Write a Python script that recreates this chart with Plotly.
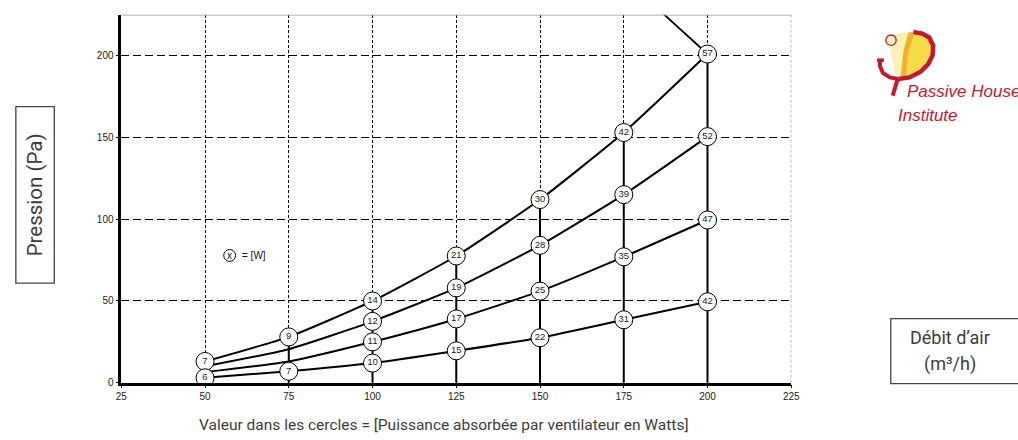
import plotly.graph_objects as go

W, H = 1018, 440

# ---- data ----
flow = [50, 75, 100, 125, 150, 175, 200]
p1 = [13, 28, 50, 77.5, 112, 153, 201]
w1 = [7, 9, 14, 21, 30, 42, 57]
p2 = [10, 20.5, 37.5, 58, 84, 115, 150.5]
w2 = [None, None, 12, 19, 28, 39, 52]
p3 = [6.5, 13, 25, 39, 56, 77, 99.5]
w3 = [None, None, 11, 17, 25, 35, 47]
p4 = [3, 7, 12, 19.5, 27.5, 38.5, 49.5]
w4 = [6, 7, 10, 15, 22, 31, 42]
limit_flow = [200, 185]
limit_p = [201, 229]

x_ticks = [25, 50, 75, 100, 125, 150, 175, 200, 225]
y_ticks = [0, 50, 100, 150, 200]

# ---- helpers for pixel placement of decorations ----
def px(x):
    return x / W

def py(y):
    return 1 - y / H

def path(pts, close=False):
    s = "M " + " L ".join(f"{px(x):.5f},{py(y):.5f}" for x, y in pts)
    return s + (" Z" if close else "")

fig = go.Figure()

# vertical operating lines at each flow (from top curve down to 0)
for i in range(1, len(flow)):
    fig.add_trace(go.Scatter(x=[flow[i], flow[i]], y=[0, p1[i]], mode="lines",
                             line=dict(color="black", width=2), hoverinfo="skip", showlegend=False))

# limit line
fig.add_trace(go.Scatter(x=limit_flow, y=limit_p, mode="lines",
                         line=dict(color="black", width=1.8), hoverinfo="skip", showlegend=False))

curves = [(p1, w1), (p2, w2), (p3, w3), (p4, w4)]
for p, w in curves:
    fig.add_trace(go.Scatter(x=flow, y=p, mode="lines", line=dict(color="black", width=2, shape="spline", smoothing=0.5),
                             hoverinfo="skip", showlegend=False))
for p, w in curves:
    xs = [f for f, v in zip(flow, w) if v is not None]
    ys = [q for q, v in zip(p, w) if v is not None]
    ts = [str(v) for v in w if v is not None]
    fig.add_trace(go.Scatter(x=xs, y=ys, mode="markers+text", text=ts, textposition="middle center",
                             textfont=dict(family="Liberation Sans", size=9.5, color="#222"),
                             marker=dict(size=18, color="white", line=dict(color="black", width=1)),
                             hoverinfo="skip", showlegend=False))

x0, x1 = 117, 797
y0, y1 = 15, 388
fig.update_layout(
    width=W, height=H, margin=dict(l=0, r=0, t=0, b=0),
    paper_bgcolor="white", plot_bgcolor="white", showlegend=False,
    xaxis=dict(domain=[px(x0), px(x1)], range=[25, 225], tickvals=x_ticks,
               showgrid=True, gridcolor="black", gridwidth=1, griddash="3px,2px",
               showline=True, linecolor="black", linewidth=2.5, zeroline=False,
               ticks="outside", ticklen=3, tickcolor="black",
               tickfont=dict(family="Liberation Sans", size=10, color="#222")),
    yaxis=dict(domain=[py(y1), py(y0)], range=[0, 225], tickvals=y_ticks,
               showgrid=True, gridcolor="black", gridwidth=1, griddash="8px,4px",
               showline=True, linecolor="black", linewidth=2.5, zeroline=False,
               ticks="outside", ticklen=3, tickcolor="black",
               tickfont=dict(family="Liberation Sans", size=10, color="#222")),
)

shapes = []
shapes.append(dict(type="line", xref="x", yref="y", x0=25, x1=225, y0=225, y1=225,
                   line=dict(color="#999", width=1.5)))
shapes.append(dict(type="line", xref="x", yref="y", x0=225, x1=225, y0=0, y1=225,
                   line=dict(color="#666", width=1, dash="3px,2px")))
shapes.append(dict(type="circle", xref="paper", yref="paper",
                   x0=px(221), x1=px(233), y0=py(265), y1=py(253),
                   line=dict(color="black", width=1), fillcolor="white"))
shapes.append(dict(type="rect", xref="paper", yref="paper", x0=px(10), x1=px(49), y0=py(287), y1=py(108),
                   line=dict(color="#444", width=1.3)))
shapes.append(dict(type="rect", xref="paper", yref="paper", x0=px(898), x1=px(1030), y0=py(389), y1=py(323),
                   line=dict(color="#444", width=1.3)))
# logo
red = "#c4182f"
shapes.append(dict(type="path", xref="paper", yref="paper",
                   path=path([(899, 36), (921, 32), (933, 35), (940, 44), (940, 56), (934, 67), (924, 75), (910, 79),
                              (903, 74), (900, 60), (897, 45)], True),
                   fillcolor="#f6dc4a", line=dict(width=0)))
shapes.append(dict(type="path", xref="paper", yref="paper",
                   path=path([(899, 37), (916, 33), (911, 50), (908, 78), (903, 74), (900, 60), (897, 45)], True),
                   fillcolor="#fbf1b8", line=dict(width=0)))
shapes.append(dict(type="path", xref="paper", yref="paper",
                   path=path([(916, 33), (922, 33), (916, 52), (913, 79), (908, 79), (911, 52)], True),
                   fillcolor="#f0b030", line=dict(width=0)))
shapes.append(dict(type="path", xref="paper", yref="paper",
                   path=path([(921, 32.5), (930, 34), (937, 38), (941, 46), (940.5, 56), (936, 65), (928, 73), (917, 78.5), (906, 80)]),
                   line=dict(color=red, width=4.5)))
shapes.append(dict(type="path", xref="paper", yref="paper",
                   path=path([(884, 61), (891, 61)]),
                   line=dict(color=red, width=3.5)))
shapes.append(dict(type="path", xref="paper", yref="paper",
                   path=path([(887, 60), (887, 67), (890, 74), (897, 78.5), (906, 80)]),
                   line=dict(color=red, width=4)))
shapes.append(dict(type="path", xref="paper", yref="paper",
                   path=path([(905, 80), (900, 97)]),
                   line=dict(color=red, width=4)))
shapes.append(dict(type="circle", xref="paper", yref="paper",
                   x0=px(893), x1=px(903.5), y0=py(46), y1=py(35.5),
                   line=dict(color=red, width=1.3), fillcolor="#fdf3c0"))
fig.update_layout(shapes=shapes)

label_font = dict(family="Roboto", size=18, color="#3d3d3d")
ann = [
    dict(x=px(227), y=py(259), text="x", font=dict(family="Liberation Sans", size=10, color="#111")),
    dict(x=px(238), y=py(259), text="= [W]", xanchor="left", font=dict(family="Liberation Sans", size=10, color="#111")),
    dict(x=px(445), y=py(431), text="Valeur dans les cercles = [Puissance absorbée par ventilateur en Watts]",
         font=dict(family="Roboto", size=15.5, color="#3d3d3d")),
    dict(x=px(29.5), y=py(198), text="Pression (Pa)", textangle=-90, font=dict(family="Roboto", size=20.5, color="#3d3d3d")),
    dict(x=px(958), y=py(342), text="Débit d’air", font=label_font),
    dict(x=px(958), y=py(369), text="(m³/h)", font=label_font),
    dict(x=px(912), y=py(93), text="<i>Passive House</i>", xanchor="left",
         font=dict(family="Liberation Sans", size=17, color=red)),
    dict(x=px(903), y=py(117), text="<i>Institute</i>", xanchor="left",
         font=dict(family="Liberation Sans", size=17, color=red)),
]
for a in ann:
    a.setdefault("xanchor", "center")
    a.update(xref="paper", yref="paper", yanchor="middle", showarrow=False)
fig.update_layout(annotations=ann)

fig.write_html("out.html", config={"displayModeBar": False},
               post_script="document.body.style.margin='0';document.body.style.overflow='hidden';")
